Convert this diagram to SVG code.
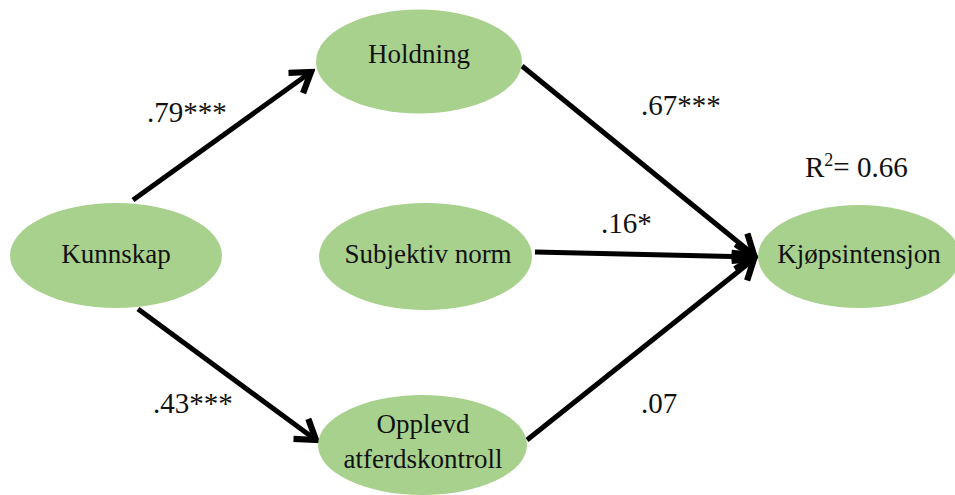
<svg xmlns="http://www.w3.org/2000/svg" width="955" height="495" viewBox="0 0 955 495">
  <style>
    .node ellipse { fill: #a9d18e; stroke: none; }
    .node text { font-size: 27px; fill: #111; text-anchor: middle; }
    .lbl { font-size: 29px; fill: #111; }
    .edge { stroke: #000; stroke-width: 5; fill: none; marker-end: url(#arrow); }
  </style>
  <defs>
    <marker id="arrow" markerUnits="userSpaceOnUse" markerWidth="30" markerHeight="30" viewBox="-20 -12 24 24" refX="0" refY="0" orient="auto">
      <path d="M-15,-10 L0,0 L-15,10" fill="none" stroke="#000" stroke-width="5" stroke-linejoin="miter" stroke-linecap="butt"/>
    </marker>
  </defs>

  <rect width="955" height="495" fill="#fff"/>

  <g id="connectors">
    <line class="edge" x1="133" y1="200" x2="311" y2="72"/>
    <line class="edge" x1="138" y1="309" x2="316" y2="440"/>
    <line class="edge" x1="522" y1="66" x2="754" y2="255"/>
    <line class="edge" x1="535" y1="252" x2="754" y2="257"/>
    <line class="edge" x1="527" y1="440" x2="754" y2="259"/>
  </g>

  <g font-family="'Liberation Serif', 'Times New Roman', Tinos, 'DejaVu Serif', serif">
    <g id="kunnskap" class="node">
      <ellipse cx="116" cy="255.5" rx="106" ry="52.5"/>
      <text x="116" y="263">Kunnskap</text>
    </g>
    <g id="holdning" class="node">
      <ellipse cx="419" cy="61.5" rx="103" ry="52"/>
      <text x="419" y="63">Holdning</text>
    </g>
    <g id="subjektiv-norm" class="node">
      <ellipse cx="425.5" cy="256.5" rx="106.5" ry="53.5"/>
      <text x="428" y="263">Subjektiv norm</text>
    </g>
    <g id="opplevd-atferdskontroll" class="node">
      <ellipse cx="422.5" cy="445" rx="104.5" ry="50"/>
      <text x="423" y="433">Opplevd</text>
      <text x="423" y="468">atferdskontroll</text>
    </g>
    <g id="kjopsintensjon" class="node">
      <ellipse cx="859" cy="256.5" rx="101" ry="51.5"/>
      <text x="859" y="263">Kjøpsintensjon</text>
    </g>

    <g id="labels">
      <text class="lbl" x="147" y="122">.79***</text>
      <text class="lbl" x="153" y="413">.43***</text>
      <text class="lbl" x="641" y="115">.67***</text>
      <text class="lbl" x="601" y="233">.16*</text>
      <text class="lbl" x="641" y="413">.07</text>
      <text class="lbl" x="805" y="177">R<tspan font-size="18" dy="-11">2</tspan><tspan dy="11">= 0.66</tspan></text>
    </g>
  </g>
</svg>
